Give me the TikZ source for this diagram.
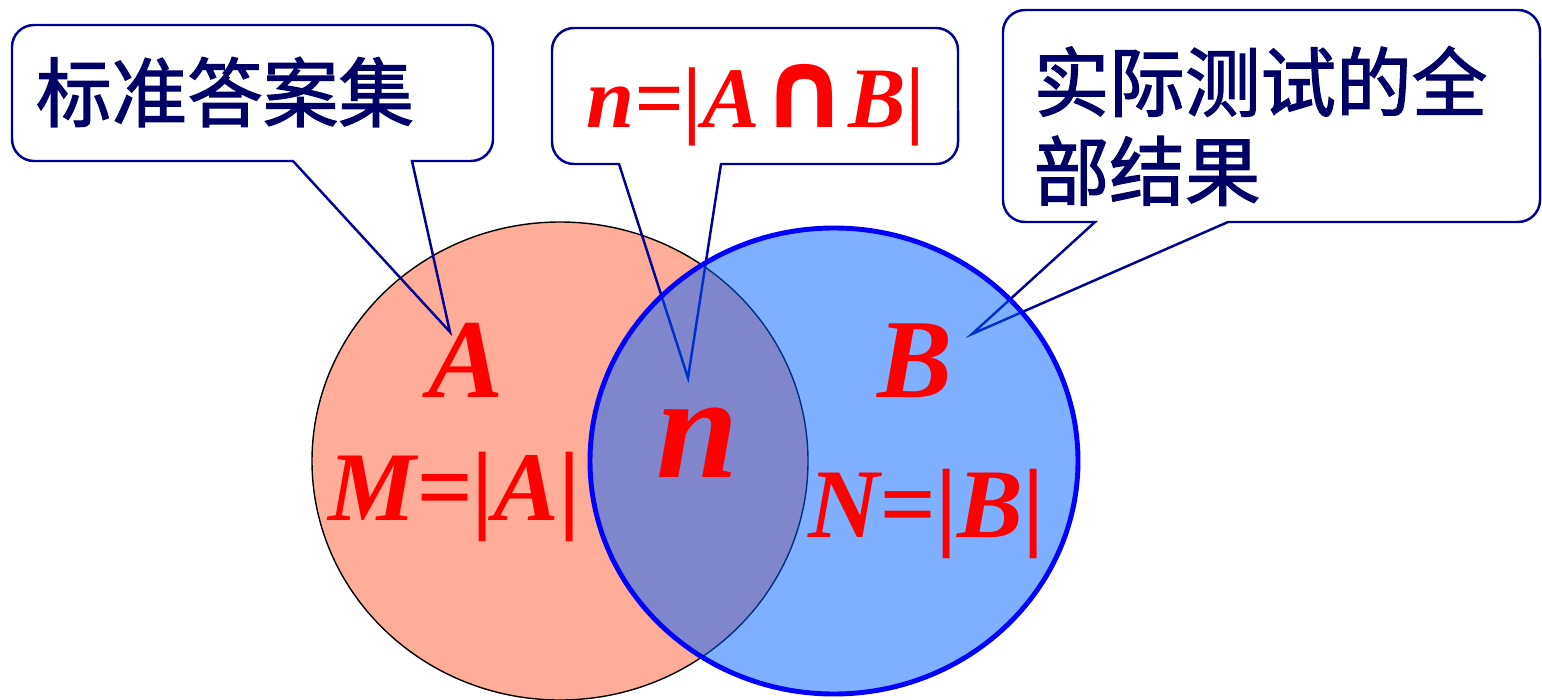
\documentclass[tikz,border=0pt]{standalone}
\usepackage{fontspec}
\setmainfont{Liberation Serif}
\newfontfamily\cjk{Noto Sans CJK SC}[FakeBold=1.6]
\newfontfamily\symfont{DejaVu Sans}
\usetikzlibrary{positioning}

\definecolor{salmonA}{RGB}{255,173,153}
\definecolor{blueB}{RGB}{0,96,255}
\definecolor{navyline}{RGB}{0,0,150}
\definecolor{navytext}{RGB}{0,0,102}

\tikzset{
    setlabel/.style={text=red, inner sep=0pt, anchor=base},
    calloutline/.style={draw=navyline, line width=0.7pt, line join=miter},
    callouttext/.style={text=navytext, inner sep=0pt,
        font=\cjk\fontsize{21.5}{25.3}\selectfont},
    corner/.style={radius=0.22cm},
}

\begin{document}
\begin{tikzpicture}[x=0.01cm, y=-0.01cm]
    \useasboundingbox (0,0) rectangle (1542,700);

    % Set A
    \draw[fill=salmonA, draw=black, line width=0.4pt] (560,461)
        ellipse [x radius=248, y radius=239];

    % Callout: standard answers
    \draw[calloutline] (293,161) -- (450,332) -- (412,161) -- (471,161)
        arc[corner, start angle=-90, end angle=0] -- (493,47)
        arc[corner, start angle=0, end angle=90] -- (34,25)
        arc[corner, start angle=90, end angle=180] -- (12,139)
        arc[corner, start angle=180, end angle=270] -- cycle;
    \node[callouttext] (answers) at (225,92) {标准答案集};

    % Callout: intersection
    \draw[calloutline] (619,164) -- (688,378) -- (721,164) -- (936,164)
        arc[corner, start angle=-90, end angle=0] -- (958,50)
        arc[corner, start angle=0, end angle=90] -- (574,28)
        arc[corner, start angle=90, end angle=180] -- (552,142)
        arc[corner, start angle=180, end angle=270] -- cycle;
    \node[setlabel, font=\bfseries\itshape\fontsize{24.5}{28}\selectfont]
        (inter) at (756,127)
        {n=|A{\symfont\bfseries\fontsize{31}{31}\selectfont ∩}B|};

    % Callout: all results
    \draw[calloutline] (1095,222) -- (972,334) -- (1228,222) -- (1518,222)
        arc[corner, start angle=-90, end angle=0] -- (1540,32)
        arc[corner, start angle=0, end angle=90] -- (1025,10)
        arc[corner, start angle=90, end angle=180] -- (1003,200)
        arc[corner, start angle=180, end angle=270] -- cycle;
    \node[callouttext, align=left, anchor=west] (results) at (1033,126)
        {实际测试的全\\部结果};

    % Set B
    \fill[blueB, fill opacity=0.5] (834,461) ellipse [x radius=244, y radius=233];
    \draw[blue, line width=1.4pt] (834,461) ellipse [x radius=244, y radius=233];

    % Labels
    \node[setlabel, font=\bfseries\itshape\fontsize{32}{36}\selectfont]
        (labelA) at (466,397) {A};
    \node[setlabel, font=\bfseries\itshape\fontsize{28}{32}\selectfont]
        (sizeA) at (455,520) {M=|A|};
    \node[setlabel, font=\bfseries\itshape\fontsize{42}{46}\selectfont]
        (labeln) at (698,477) {n};
    \node[setlabel, font=\bfseries\itshape\fontsize{32}{36}\selectfont]
        (labelB) at (915,397) {B};
    \node[setlabel, font=\bfseries\itshape\fontsize{28}{32}\selectfont]
        (sizeB) at (927,537) {N=|B|};

\end{tikzpicture}
\end{document}
